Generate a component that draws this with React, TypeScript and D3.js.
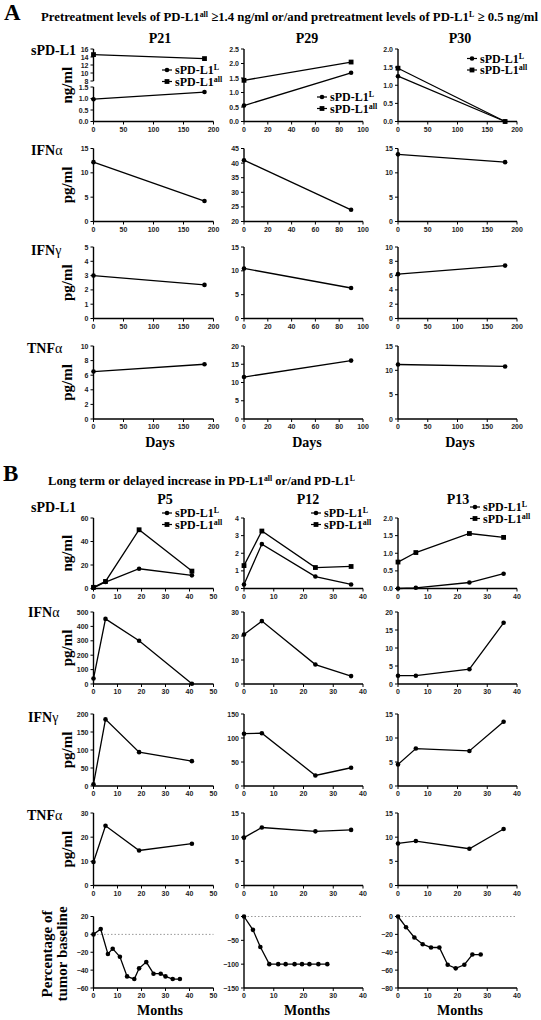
import React from 'react';
import * as d3 from 'd3';

// ---------- time points ----------
const daysP21 = [0, 185];
const daysP29 = [0, 90];
const daysP30 = [0, 180];
const monthsP5 = [0, 5, 19, 41];
const monthsP12 = [0, 6, 24, 36];
const monthsP13 = [0, 6, 24, 35.5];

// ---------- panel A values ----------
const p21SpdL1L = [0.97, 1.28];
const p21SpdL1All = [14.6, 13.6];
const p29SpdL1L = [0.55, 1.68];
const p29SpdL1All = [1.42, 2.05];
const p30SpdL1L = [1.25, 0.0];
const p30SpdL1All = [1.47, 0.0];
const p21IfnA = [12.2, 4.2];
const p29IfnA = [41, 24];
const p30IfnA = [13.8, 12.2];
const p21IfnG = [3.0, 2.35];
const p29IfnG = [10.5, 6.4];
const p30IfnG = [6.2, 7.4];
const p21Tnf = [6.5, 7.5];
const p29Tnf = [11.5, 16.0];
const p30Tnf = [11.2, 10.8];

// ---------- panel B values ----------
const p5SpdL1L = [0.5, 5.5, 16.8, 11.2];
const p5SpdL1All = [1.0, 6.0, 50, 14.8];
const p12SpdL1L = [0.23, 2.52, 0.68, 0.23];
const p12SpdL1All = [1.3, 3.26, 1.19, 1.25];
const p13SpdL1L = [0.0, 0.02, 0.17, 0.42];
const p13SpdL1All = [0.75, 1.02, 1.56, 1.45];
const p5IfnA = [38, 452, 300, 2];
const p12IfnA = [20.6, 26.2, 8.1, 3.3];
const p13IfnA = [2.3, 2.3, 4.1, 17];
const p5IfnG = [5, 185, 94, 69];
const p12IfnG = [109, 110, 22, 38];
const p13IfnG = [4.5, 7.8, 7.3, 13.4];
const p5Tnf = [9.7, 24.7, 14.5, 17.3];
const p12Tnf = [9.9, 12.0, 11.2, 11.5];
const p13Tnf = [8.7, 9.2, 7.6, 11.7];

// ---------- tumor baseline ----------
const tumorMonthsP5 = [0, 3, 6, 8, 11, 14, 17, 19, 22, 25, 28, 30, 33, 36];
const tumorP5 = [0, 6, -22, -16, -25, -47, -50, -38, -31, -44, -44, -47, -50, -50];
const tumorMonthsP12 = [0, 3, 5.5, 8.5, 11.5, 14, 17, 19.5, 22, 25, 28];
const tumorP12 = [0, -28, -64, -100, -100, -100, -100, -100, -100, -100, -100];
const tumorMonthsP13 = [0, 2.7, 5.5, 8.3, 11.1, 13.9, 16.7, 19.4, 22.3, 25, 27.8];
const tumorP13 = [0, -12, -23.5, -31, -34.7, -34.7, -54, -58, -54, -42.6, -42.6];

// ---------- ticks ----------
const xTicksDays200 = [0, 50, 100, 150, 200];
const xTicksDays100 = [0, 20, 40, 60, 80, 100];
const xTicksMonths50 = [0, 10, 20, 30, 40, 50];
const xTicksMonths40 = [0, 10, 20, 30, 40];
const yTicksBroken = [0, 0.5, 1.0, 1.5, 8, 10, 12, 14, 16];
const yTicks0to25 = [0, 0.5, 1.0, 1.5, 2.0, 2.5];
const yTicks0to2 = [0, 0.5, 1.0, 1.5, 2.0];
const yTicks0to15by5 = [0, 5, 10, 15];
const yTicks20to45 = [20, 25, 30, 35, 40, 45];
const yTicks0to5 = [0, 1, 2, 3, 4, 5];
const yTicks0to10by2 = [0, 2, 4, 6, 8, 10];
const yTicks0to20by5 = [0, 5, 10, 15, 20];
const yTicks0to60 = [0, 20, 40, 60];
const yTicks0to4 = [0, 1, 2, 3, 4];
const yTicks0to500 = [0, 100, 200, 300, 400, 500];
const yTicks0to30by10 = [0, 10, 20, 30];
const yTicks0to200 = [0, 50, 100, 150, 200];
const yTicks0to150 = [0, 50, 100, 150];
const yTicksTumorP5 = [-60, -40, -20, 0, 20];
const yTicksTumorP12 = [-150, -100, -50, 0];
const yTicksTumorP13 = [-80, -60, -40, -20, 0];

const SERIF = "'Liberation Serif', 'Times New Roman', serif";
const SANS = "'Liberation Sans', Arial, sans-serif";

const COLS = [
  [93.5, 213.5],
  [244, 363],
  [398, 517],
];
const ROWS_A = [
  [49, 121.5],
  [148.5, 221.5],
  [247, 318.5],
  [346, 419],
];
const ROWS_B = [
  [518, 588.5],
  [612, 684],
  [714, 786],
  [813, 885.5],
  [916.5, 988],
];

type Box = { x0: number; x1: number; y0: number; y1: number };
const box = (c: number, r: number[]): Box => ({ x0: COLS[c][0], x1: COLS[c][1], y0: r[0], y1: r[1] });

type Series = { xs: number[]; ys: number[]; marker: 'circle' | 'square' };

const zip = (xs: number[], ys: number[]) => xs.map((x, i) => [x, ys[i]] as [number, number]);

function Marker({ cx, cy, kind }: { cx: number; cy: number; kind: string }) {
  if (kind === 'square') return <rect x={cx - 2.4} y={cy - 2.4} width={4.8} height={4.8} fill="#000" />;
  return <circle cx={cx} cy={cy} r={2.3} fill="#000" />;
}

function LegendItem({ x, y, kind, sup }: { x: number; y: number; kind: string; sup: string }) {
  return (
    <g>
      <line x1={x} x2={x + 10} y1={y} y2={y} stroke="#000" strokeWidth={1.2} />
      <Marker cx={x + 5} cy={y} kind={kind} />
      <text x={x + 13} y={y + 4} fontFamily={SERIF} fontWeight="bold" fontSize={12} fill="#000">
        sPD-L1
        <tspan dy={-4} fontSize={8}>{sup}</tspan>
      </text>
    </g>
  );
}

type PanelProps = {
  b: Box;
  xDomain: number[];
  xTicks: number[];
  yDomain: number[];
  yRange?: number[];
  yTicks: number[];
  yFmt: (v: number) => string;
  series: Series[];
  legend?: { x: number; y: number };
  zeroLine?: boolean;
  axisSegments?: number[][];
};

function Panel({ b, xDomain, xTicks, yDomain, yRange, yTicks, yFmt, series, legend, zeroLine, axisSegments }: PanelProps) {
  const x = d3.scaleLinear().domain(xDomain).range([b.x0, b.x1]);
  const y = d3.scaleLinear().domain(yDomain).range(yRange ?? [b.y1, b.y0]);
  const line = d3.line<[number, number]>().x((d) => x(d[0])).y((d) => y(d[1]));
  const segs = axisSegments ?? [[yDomain[0], yDomain[yDomain.length - 1]]];
  return (
    <g>
      {zeroLine && (
        <line x1={x(xDomain[0])} x2={x(xDomain[1])} y1={y(0)} y2={y(0)} stroke="#999" strokeWidth={1} strokeDasharray="1.5,2" />
      )}
      <line x1={b.x0} x2={b.x1} y1={b.y1} y2={b.y1} stroke="#000" strokeWidth={1.4} />
      {xTicks.map((t) => (
        <g key={'x' + t}>
          <line x1={x(t)} x2={x(t)} y1={b.y1} y2={b.y1 + 3} stroke="#000" strokeWidth={1} />
          <text x={x(t)} y={b.y1 + 10} textAnchor="middle" fontFamily={SANS} fontWeight="bold" fontSize={7} fill="#222">
            {t}
          </text>
        </g>
      ))}
      {segs.map((s, i) => (
        <line key={'s' + i} x1={b.x0} x2={b.x0} y1={y(s[0])} y2={y(s[1])} stroke="#000" strokeWidth={1.4} />
      ))}
      {yTicks.map((t) => (
        <g key={'y' + t}>
          <line x1={b.x0 - 3} x2={b.x0} y1={y(t)} y2={y(t)} stroke="#000" strokeWidth={1} />
          <text x={b.x0 - 5} y={y(t) + 2.5} textAnchor="end" fontFamily={SANS} fontWeight="bold" fontSize={7} fill="#222">
            {yFmt(t)}
          </text>
        </g>
      ))}
      {series.map((s, i) => {
        const pts = zip(s.xs, s.ys);
        return (
          <g key={'d' + i}>
            <path d={line(pts) ?? ''} fill="none" stroke="#000" strokeWidth={1.3} />
            {pts.map((p, j) => (
              <Marker key={j} cx={x(p[0])} cy={y(p[1])} kind={s.marker} />
            ))}
          </g>
        );
      })}
      {legend && (
        <g>
          <LegendItem x={legend.x} y={legend.y} kind="circle" sup="L" />
          <LegendItem x={legend.x} y={legend.y + 11.5} kind="square" sup="all" />
        </g>
      )}
    </g>
  );
}

const fInt = d3.format('d');
const f1 = d3.format('.1f');
const fBroken = (v: number) => (v > 4 ? fInt(v) : f1(v));

function RowLabel({ x, y, main, greek }: { x: number; y: number; main: string; greek?: string }) {
  return (
    <text x={x} y={y} fontFamily={SERIF} fontSize={14} fill="#000">
      <tspan fontWeight="bold">{main}</tspan>
      {greek && <tspan fontWeight="normal">{greek}</tspan>}
    </text>
  );
}

function UnitLabel({ y, text }: { y: number; text: string }) {
  return (
    <text
      transform={`translate(72,${y}) rotate(-90)`}
      textAnchor="middle"
      fontFamily={SERIF}
      fontWeight="bold"
      fontSize={15}
      fill="#000"
    >
      {text}
    </text>
  );
}

export default function App() {
  const mid = (r: number[]) => (r[0] + r[1]) / 2;
  const colCenters = [160, 307, 460];
  const circ = 'circle' as const;
  const sq = 'square' as const;
  return (
    <svg width={541} height={1020} style={{ position: 'absolute', left: 0, top: 0, background: '#fff' }}>
      <rect width={541} height={1020} fill="#fff" />
      {/* ---------------- Panel A ---------------- */}
      <text x={4} y={20} fontFamily={SERIF} fontWeight="bold" fontSize={23}>A</text>
      <text x={41} y={21} fontFamily={SERIF} fontWeight="bold" fontSize={13} textLength={497} lengthAdjust="spacingAndGlyphs">
        Pretreatment levels of PD-L1<tspan dy={-4} fontSize={8}>all</tspan>
        <tspan dy={4}> ≥1.4 ng/ml or/and pretreatment levels of PD-L1</tspan>
        <tspan dy={-4} fontSize={8}>L</tspan>
        <tspan dy={4}> ≥ 0.5 ng/ml</tspan>
      </text>
      {['P21', 'P29', 'P30'].map((t, i) => (
        <text key={t} x={colCenters[i]} y={43} textAnchor="middle" fontFamily={SERIF} fontWeight="bold" fontSize={14}>
          {t}
        </text>
      ))}
      <RowLabel x={31} y={55} main="sPD-L1" />
      <RowLabel x={31} y={155} main="IFN" greek="α" />
      <RowLabel x={31} y={255} main="IFN" greek="γ" />
      <RowLabel x={27} y={353} main="TNF" greek="α" />
      <UnitLabel y={mid(ROWS_A[0])} text="ng/ml" />
      <UnitLabel y={mid(ROWS_A[1])} text="pg/ml" />
      <UnitLabel y={mid(ROWS_A[2])} text="pg/ml" />
      <UnitLabel y={mid(ROWS_A[3])} text="pg/ml" />

      <Panel
        b={box(0, ROWS_A[0])}
        xDomain={[0, 200]}
        xTicks={xTicksDays200}
        yDomain={[0, 1.5, 8, 16]}
        yRange={[121.5, 87, 81, 49]}
        axisSegments={[[0, 1.5], [8, 16]]}
        yTicks={yTicksBroken}
        yFmt={fBroken}
        series={[
          { xs: daysP21, ys: p21SpdL1L, marker: circ },
          { xs: daysP21, ys: p21SpdL1All, marker: sq },
        ]}
        legend={{ x: 162, y: 70 }}
      />
      <Panel
        b={box(1, ROWS_A[0])}
        xDomain={[0, 100]}
        xTicks={xTicksDays100}
        yDomain={[0, 2.5]}
        yTicks={yTicks0to25}
        yFmt={f1}
        series={[
          { xs: daysP29, ys: p29SpdL1L, marker: circ },
          { xs: daysP29, ys: p29SpdL1All, marker: sq },
        ]}
        legend={{ x: 317, y: 97 }}
      />
      <Panel
        b={box(2, ROWS_A[0])}
        xDomain={[0, 200]}
        xTicks={xTicksDays200}
        yDomain={[0, 2.0]}
        yTicks={yTicks0to2}
        yFmt={f1}
        series={[
          { xs: daysP30, ys: p30SpdL1L, marker: circ },
          { xs: daysP30, ys: p30SpdL1All, marker: sq },
        ]}
        legend={{ x: 467, y: 58.5 }}
      />
      <Panel b={box(0, ROWS_A[1])} xDomain={[0, 200]} xTicks={xTicksDays200} yDomain={[0, 15]} yTicks={yTicks0to15by5} yFmt={fInt}
        series={[{ xs: daysP21, ys: p21IfnA, marker: circ }]} />
      <Panel b={box(1, ROWS_A[1])} xDomain={[0, 100]} xTicks={xTicksDays100} yDomain={[20, 45]} yTicks={yTicks20to45} yFmt={fInt}
        series={[{ xs: daysP29, ys: p29IfnA, marker: circ }]} />
      <Panel b={box(2, ROWS_A[1])} xDomain={[0, 200]} xTicks={xTicksDays200} yDomain={[0, 15]} yTicks={yTicks0to15by5} yFmt={fInt}
        series={[{ xs: daysP30, ys: p30IfnA, marker: circ }]} />
      <Panel b={box(0, ROWS_A[2])} xDomain={[0, 200]} xTicks={xTicksDays200} yDomain={[0, 5]} yTicks={yTicks0to5} yFmt={fInt}
        series={[{ xs: daysP21, ys: p21IfnG, marker: circ }]} />
      <Panel b={box(1, ROWS_A[2])} xDomain={[0, 100]} xTicks={xTicksDays100} yDomain={[0, 15]} yTicks={yTicks0to15by5} yFmt={fInt}
        series={[{ xs: daysP29, ys: p29IfnG, marker: circ }]} />
      <Panel b={box(2, ROWS_A[2])} xDomain={[0, 200]} xTicks={xTicksDays200} yDomain={[0, 10]} yTicks={yTicks0to10by2} yFmt={fInt}
        series={[{ xs: daysP30, ys: p30IfnG, marker: circ }]} />
      <Panel b={box(0, ROWS_A[3])} xDomain={[0, 200]} xTicks={xTicksDays200} yDomain={[0, 10]} yTicks={yTicks0to10by2} yFmt={fInt}
        series={[{ xs: daysP21, ys: p21Tnf, marker: circ }]} />
      <Panel b={box(1, ROWS_A[3])} xDomain={[0, 100]} xTicks={xTicksDays100} yDomain={[0, 20]} yTicks={yTicks0to20by5} yFmt={fInt}
        series={[{ xs: daysP29, ys: p29Tnf, marker: circ }]} />
      <Panel b={box(2, ROWS_A[3])} xDomain={[0, 200]} xTicks={xTicksDays200} yDomain={[0, 15]} yTicks={yTicks0to15by5} yFmt={fInt}
        series={[{ xs: daysP30, ys: p30Tnf, marker: circ }]} />
      {colCenters.map((cx, i) => (
        <text key={'days' + i} x={cx} y={447} textAnchor="middle" fontFamily={SERIF} fontWeight="bold" fontSize={14}>
          Days
        </text>
      ))}

      {/* ---------------- Panel B ---------------- */}
      <text x={3} y={481} fontFamily={SERIF} fontWeight="bold" fontSize={23}>B</text>
      <text x={48} y={485} fontFamily={SERIF} fontWeight="bold" fontSize={13} textLength={307} lengthAdjust="spacingAndGlyphs">
        Long term or delayed increase in PD-L1<tspan dy={-4} fontSize={8}>all</tspan>
        <tspan dy={4}> or/and PD-L1</tspan>
        <tspan dy={-4} fontSize={8}>L</tspan>
      </text>
      {['P5', 'P12', 'P13'].map((t, i) => (
        <text key={t} x={[165, 308, 458][i]} y={504} textAnchor="middle" fontFamily={SERIF} fontWeight="bold" fontSize={14}>
          {t}
        </text>
      ))}
      <RowLabel x={31} y={512} main="sPD-L1" />
      <RowLabel x={28} y={617} main="IFN" greek="α" />
      <RowLabel x={28} y={722} main="IFN" greek="γ" />
      <RowLabel x={27} y={820} main="TNF" greek="α" />
      <UnitLabel y={mid(ROWS_B[0])} text="ng/ml" />
      <UnitLabel y={mid(ROWS_B[1])} text="pg/ml" />
      <UnitLabel y={mid(ROWS_B[2])} text="pg/ml" />
      <UnitLabel y={mid(ROWS_B[3])} text="pg/ml" />

      <Panel b={box(0, ROWS_B[0])} xDomain={[0, 50]} xTicks={xTicksMonths50} yDomain={[0, 60]} yTicks={yTicks0to60} yFmt={fInt}
        series={[
          { xs: monthsP5, ys: p5SpdL1L, marker: circ },
          { xs: monthsP5, ys: p5SpdL1All, marker: sq },
        ]}
        legend={{ x: 162, y: 513 }} />
      <Panel b={box(1, ROWS_B[0])} xDomain={[0, 40]} xTicks={xTicksMonths40} yDomain={[0, 4]} yTicks={yTicks0to4} yFmt={fInt}
        series={[
          { xs: monthsP12, ys: p12SpdL1L, marker: circ },
          { xs: monthsP12, ys: p12SpdL1All, marker: sq },
        ]}
        legend={{ x: 311, y: 513 }} />
      <Panel b={box(2, ROWS_B[0])} xDomain={[0, 40]} xTicks={xTicksMonths40} yDomain={[0, 2]} yTicks={yTicks0to2} yFmt={f1}
        series={[
          { xs: monthsP13, ys: p13SpdL1L, marker: circ },
          { xs: monthsP13, ys: p13SpdL1All, marker: sq },
        ]}
        legend={{ x: 470, y: 507 }} />
      <Panel b={box(0, ROWS_B[1])} xDomain={[0, 50]} xTicks={xTicksMonths50} yDomain={[0, 500]} yTicks={yTicks0to500} yFmt={fInt}
        series={[{ xs: monthsP5, ys: p5IfnA, marker: circ }]} />
      <Panel b={box(1, ROWS_B[1])} xDomain={[0, 40]} xTicks={xTicksMonths40} yDomain={[0, 30]} yTicks={yTicks0to30by10} yFmt={fInt}
        series={[{ xs: monthsP12, ys: p12IfnA, marker: circ }]} />
      <Panel b={box(2, ROWS_B[1])} xDomain={[0, 40]} xTicks={xTicksMonths40} yDomain={[0, 20]} yTicks={yTicks0to20by5} yFmt={fInt}
        series={[{ xs: monthsP13, ys: p13IfnA, marker: circ }]} />
      <Panel b={box(0, ROWS_B[2])} xDomain={[0, 50]} xTicks={xTicksMonths50} yDomain={[0, 200]} yTicks={yTicks0to200} yFmt={fInt}
        series={[{ xs: monthsP5, ys: p5IfnG, marker: circ }]} />
      <Panel b={box(1, ROWS_B[2])} xDomain={[0, 40]} xTicks={xTicksMonths40} yDomain={[0, 150]} yTicks={yTicks0to150} yFmt={fInt}
        series={[{ xs: monthsP12, ys: p12IfnG, marker: circ }]} />
      <Panel b={box(2, ROWS_B[2])} xDomain={[0, 40]} xTicks={xTicksMonths40} yDomain={[0, 15]} yTicks={yTicks0to15by5} yFmt={fInt}
        series={[{ xs: monthsP13, ys: p13IfnG, marker: circ }]} />
      <Panel b={box(0, ROWS_B[3])} xDomain={[0, 50]} xTicks={xTicksMonths50} yDomain={[0, 30]} yTicks={yTicks0to30by10} yFmt={fInt}
        series={[{ xs: monthsP5, ys: p5Tnf, marker: circ }]} />
      <Panel b={box(1, ROWS_B[3])} xDomain={[0, 40]} xTicks={xTicksMonths40} yDomain={[0, 15]} yTicks={yTicks0to15by5} yFmt={fInt}
        series={[{ xs: monthsP12, ys: p12Tnf, marker: circ }]} />
      <Panel b={box(2, ROWS_B[3])} xDomain={[0, 40]} xTicks={xTicksMonths40} yDomain={[0, 15]} yTicks={yTicks0to15by5} yFmt={fInt}
        series={[{ xs: monthsP13, ys: p13Tnf, marker: circ }]} />
      <Panel b={box(0, ROWS_B[4])} xDomain={[0, 50]} xTicks={xTicksMonths50} yDomain={[-60, 20]} yTicks={yTicksTumorP5} yFmt={fInt}
        series={[{ xs: tumorMonthsP5, ys: tumorP5, marker: circ }]} zeroLine />
      <Panel b={box(1, ROWS_B[4])} xDomain={[0, 40]} xTicks={xTicksMonths40} yDomain={[-150, 0]} yTicks={yTicksTumorP12} yFmt={fInt}
        series={[{ xs: tumorMonthsP12, ys: tumorP12, marker: circ }]} zeroLine />
      <Panel b={box(2, ROWS_B[4])} xDomain={[0, 40]} xTicks={xTicksMonths40} yDomain={[-80, 0]} yTicks={yTicksTumorP13} yFmt={fInt}
        series={[{ xs: tumorMonthsP13, ys: tumorP13, marker: circ }]} zeroLine />
      <text transform="translate(0,954) rotate(-90)" textAnchor="middle" fontFamily={SERIF} fontWeight="bold" fontSize={15}>
        <tspan x={0} y={52}>Percentage of</tspan>
        <tspan x={0} y={67}>tumor baseline</tspan>
      </text>
      {colCenters.map((cx, i) => (
        <text key={'months' + i} x={cx} y={1015} textAnchor="middle" fontFamily={SERIF} fontWeight="bold" fontSize={14}>
          Months
        </text>
      ))}
    </svg>
  );
}
